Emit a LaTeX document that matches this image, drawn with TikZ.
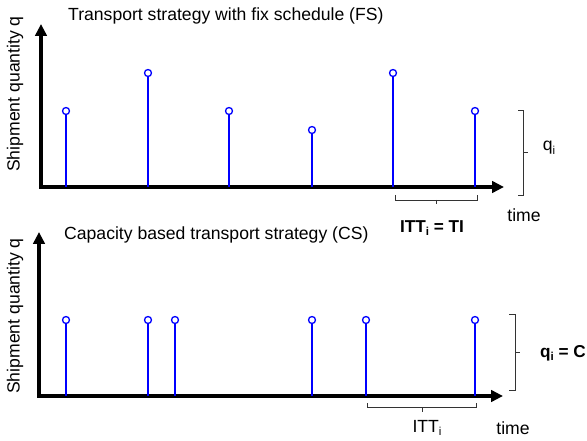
\documentclass[tikz,border=0pt]{standalone}
\usepackage{fontspec}
\setmainfont{Liberation Sans}
\usetikzlibrary{arrows.meta}
\newcommand{\lowidx}[1]{\raisebox{-0.35ex}{\fontsize{11.5}{11.5}\selectfont #1}}
\tikzset{
  axisline/.style={line width=3.8pt, -{Triangle[length=12pt,width=11.5pt]}},
  stemline/.style={blue, line width=1.3pt},
  stemhead/.style={circle, draw=blue, line width=1.3pt, fill=white, minimum size=7pt, inner sep=0pt},
  bracket/.style={line width=0.9pt, black!80},
  lbl/.style={font=\fontsize{17.6}{20}\selectfont, inner sep=0pt},
  blbl/.style={font=\fontsize{17.2}{20}\selectfont\bfseries, inner sep=0pt},
}
\begin{document}
\begin{tikzpicture}[x=1pt, y=-1pt]
\useasboundingbox (0,0) rectangle (587,441);

% ---------- fixed schedule (FS) ----------
\coordinate (o1) at (41,187);
\coordinate (y1) at (41,24);
\coordinate (x1) at (504,187);
\draw[axisline] (o1) -- (y1);
\draw[axisline] ([xshift=-1.9pt]o1) -- (x1);

\node[lbl, anchor=west] (t1) at (68,16) {Transport strategy with fix schedule (FS)};
\node[lbl, rotate=90] (ylab1) at (15,94) {Shipment quantity q};

\foreach \i/\x/\h in {1/66/111, 2/148/73, 3/229/111, 4/312/130, 5/393/73, 6/475/111}{
  \coordinate (a\i) at (\x,187);
  \node[stemhead] (p\i) at (\x,\h) {};
  \draw[stemline] (a\i) -- (p\i);
}

% brace for q_i
\coordinate (qa) at (518,110);
\coordinate (qb) at (523,110);
\coordinate (qc) at (523,195);
\coordinate (qd) at (518,195);
\coordinate (qm) at (523,152);
\coordinate (qt) at (528,152);
\draw[bracket] (qa) -- (qb) -- (qc) -- (qd);
\draw[bracket] (qm) -- (qt);
\node[lbl] (qlab) at (549,148) {q\lowidx{i}};

% brace for ITT_i = TI
\coordinate (ia) at (395,195);
\coordinate (ib) at (395,200);
\coordinate (ic) at (477,200);
\coordinate (id) at (477,195);
\coordinate (im) at (436,200);
\coordinate (it) at (436,204.5);
\draw[bracket] (ia) -- (ib) -- (ic) -- (id);
\draw[bracket] (im) -- (it);
\node[blbl] (itt1) at (432,228) {ITT\lowidx{i} = TI};
\node[lbl] (time1) at (524,215) {time};

% ---------- capacity based (CS) ----------
\coordinate (o2) at (39,396);
\coordinate (y2) at (39,232);
\coordinate (x2) at (503,396);
\draw[axisline] (o2) -- (y2);
\draw[axisline] ([xshift=-1.9pt]o2) -- (x2);

\node[lbl, anchor=west] (t2) at (64,235) {Capacity based transport strategy (CS)};
\node[lbl, rotate=90] (ylab2) at (15,316) {Shipment quantity q};

\foreach \i/\x in {1/66, 2/148, 3/175, 4/312, 5/366, 6/475}{
  \coordinate (b\i) at (\x,396);
  \node[stemhead] (r\i) at (\x,320) {};
  \draw[stemline] (b\i) -- (r\i);
}

% brace for q_i = C
\coordinate (ca) at (509,314);
\coordinate (cb) at (515,314);
\coordinate (cc) at (515,390);
\coordinate (cd) at (509,390);
\coordinate (cm) at (515,352);
\coordinate (ct) at (520,352);
\draw[bracket] (ca) -- (cb) -- (cc) -- (cd);
\draw[bracket] (cm) -- (ct);
\node[blbl] (clab) at (563,353) {q\lowidx{i} = C};

% brace for ITT_i
\coordinate (ja) at (367,403);
\coordinate (jb) at (367,407);
\coordinate (jc) at (476,407);
\coordinate (jd) at (476,403);
\coordinate (jm) at (422,407);
\coordinate (jt) at (422,411.5);
\draw[bracket] (ja) -- (jb) -- (jc) -- (jd);
\draw[bracket] (jm) -- (jt);
\node[lbl] (itt2) at (427,428) {ITT\lowidx{i}};
\node[lbl] (time2) at (513,428) {time};
\end{tikzpicture}
\end{document}
